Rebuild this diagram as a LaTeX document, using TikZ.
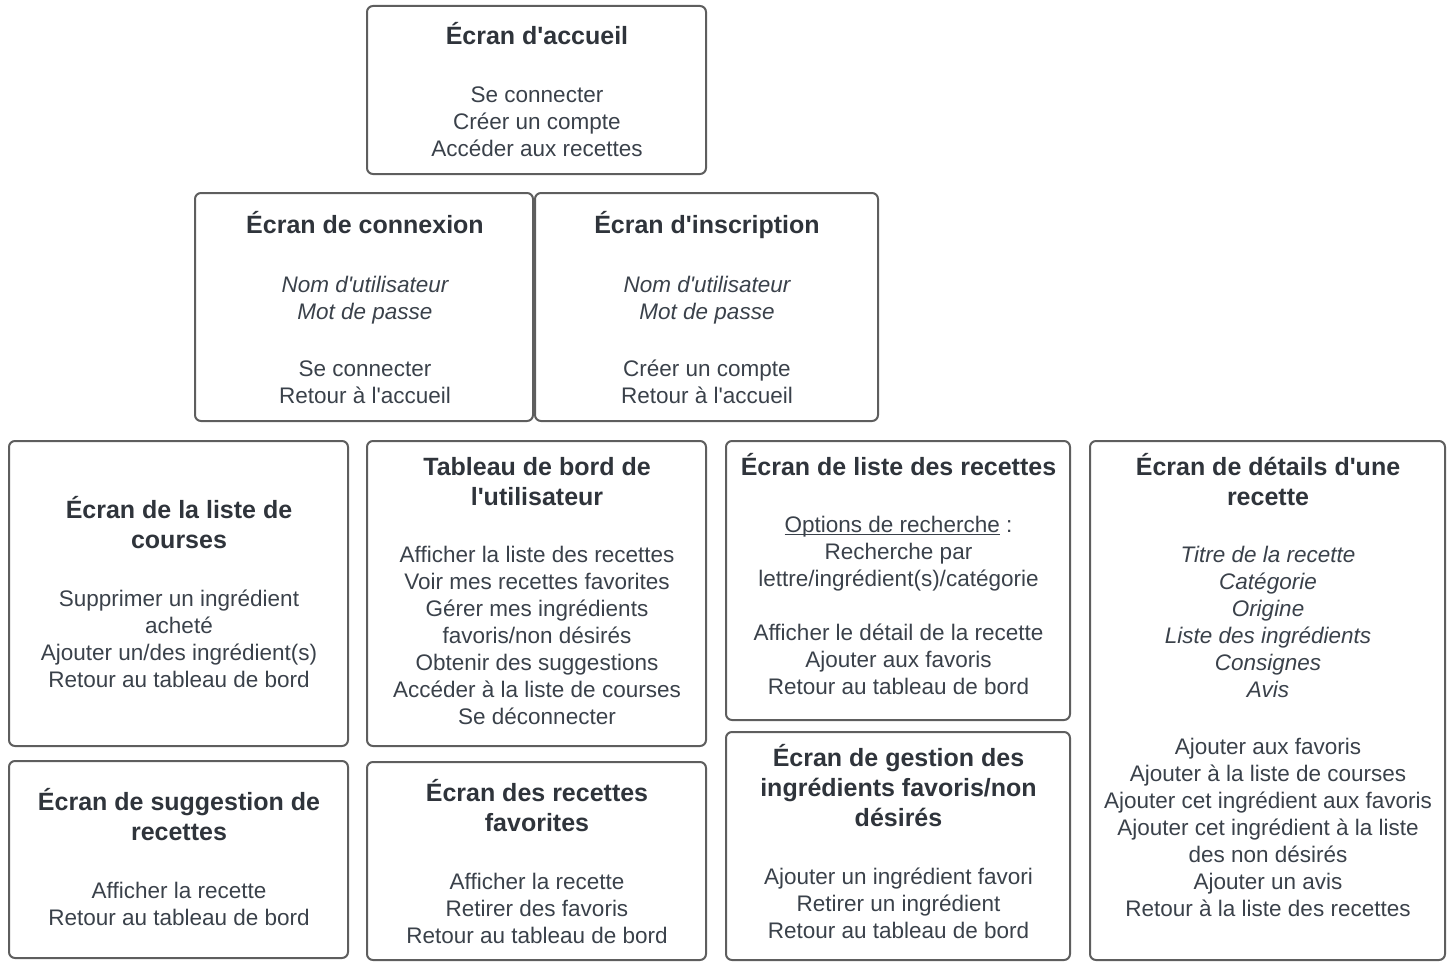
\documentclass[tikz,border=0pt]{standalone}
\usepackage{fontspec}
\setmainfont{Liberation Sans}[Ligatures=TeXOff]
\definecolor{bordercol}{HTML}{5E5E5E}
\definecolor{titlecol}{HTML}{2F343B}
\definecolor{bodycol}{HTML}{3A414A}
\newcommand{\tstr}{\rule{0pt}{25pt}}
\newcommand{\bstr}{\rule{0pt}{22pt}}
\newcommand{\myul}[1]{\setbox0\hbox{#1}\rlap{\rule[-3pt]{\wd0}{1.1pt}}\box0\relax}
\tikzset{
  box/.style={draw=bordercol, line width=2pt, rounded corners=6pt, inner sep=0pt, outer sep=0pt},
  ttl/.style={font=\bfseries\fontsize{25}{30}\selectfont, text=titlecol, align=center, anchor=north, inner sep=0pt},
  bdy/.style={font=\fontsize{22.5}{27}\selectfont, text=bodycol, align=center, anchor=north, inner sep=0pt}
}
\begin{document}
\begin{tikzpicture}[x=1pt,y=-1pt]
\useasboundingbox (0,0) rectangle (1450,966);
% boxes
\node[box, minimum width=339pt, minimum height=168pt] (acc) at (536.5,90) {};
\node[box, minimum width=338pt, minimum height=228pt] (con) at (364,307) {};
\node[box, minimum width=343pt, minimum height=228pt] (ins) at (706.5,307) {};
\node[box, minimum width=339pt, minimum height=305pt] (crs) at (178.5,593.5) {};
\node[box, minimum width=339pt, minimum height=305pt] (tdb) at (536.5,593.5) {};
\node[box, minimum width=344pt, minimum height=279pt] (lst) at (898,580.5) {};
\node[box, minimum width=355pt, minimum height=519pt] (det) at (1267.5,700.5) {};
\node[box, minimum width=339pt, minimum height=197pt] (sug) at (178.5,859.5) {};
\node[box, minimum width=339pt, minimum height=198pt] (fav) at (536.5,861) {};
\node[box, minimum width=344pt, minimum height=228pt] (ges) at (898,846) {};
% texts
\node[ttl] (accT) at (537,19) {\tstr Écran d'accueil};
\node[bdy] (accB) at (537,80) {\bstr Se connecter\\Créer un compte\\Accéder aux recettes};

\node[ttl] (conT) at (365,208) {\tstr Écran de connexion};
\node[bdy] (conB) at (365,270) {\bstr\itshape Nom d'utilisateur\\\itshape Mot de passe\\[30pt]Se connecter\\Retour à l'accueil};

\node[ttl] (insT) at (707,208) {\tstr Écran d'inscription};
\node[bdy] (insB) at (707,270) {\bstr\itshape Nom d'utilisateur\\\itshape Mot de passe\\[30pt]Créer un compte\\Retour à l'accueil};

\node[ttl] (crsT) at (179,493) {\tstr Écran de la liste de\\courses};
\node[bdy] (crsB) at (179,584) {\bstr Supprimer un ingrédient\\acheté\\Ajouter un/des ingrédient(s)\\Retour au tableau de bord};

\node[ttl] (tdbT) at (537,450) {\tstr Tableau de bord de\\l'utilisateur};
\node[bdy] (tdbB) at (537,540) {\bstr Afficher la liste des recettes\\Voir mes recettes favorites\\Gérer mes ingrédients\\favoris/non désirés\\Obtenir des suggestions\\Accéder à la liste de courses\\Se déconnecter};

\node[ttl] (lstT) at (898.5,450) {\tstr Écran de liste des recettes};
\node[bdy] (lstB) at (898.5,510) {\bstr\myul{Options de recherche}\ :\\Recherche par\\lettre/ingrédient(s)/catégorie\\[27pt]Afficher le détail de la recette\\Ajouter aux favoris\\Retour au tableau de bord};

\node[ttl] (detT) at (1268,450) {\tstr Écran de détails d'une\\recette};
\node[bdy] (detB) at (1268,540) {\bstr\itshape Titre de la recette\\\itshape Catégorie\\\itshape Origine\\\itshape Liste des ingrédients\\\itshape Consignes\\\itshape Avis\\[30pt]Ajouter aux favoris\\Ajouter à la liste de courses\\Ajouter cet ingrédient aux favoris\\Ajouter cet ingrédient à la liste\\des non désirés\\Ajouter un avis\\Retour à la liste des recettes};

\node[ttl] (sugT) at (179,785) {\tstr Écran de suggestion de\\recettes};
\node[bdy] (sugB) at (179,876) {\bstr Afficher la recette\\Retour au tableau de bord};

\node[ttl] (favT) at (537,776) {\tstr Écran des recettes\\favorites};
\node[bdy] (favB) at (537,867) {\bstr Afficher la recette\\Retirer des favoris\\Retour au tableau de bord};

\node[ttl] (gesT) at (898.5,741) {\tstr Écran de gestion des\\ingrédients favoris/non\\désirés};
\node[bdy] (gesB) at (898.5,862) {\bstr Ajouter un ingrédient favori\\Retirer un ingrédient\\Retour au tableau de bord};
\end{tikzpicture}
\end{document}
